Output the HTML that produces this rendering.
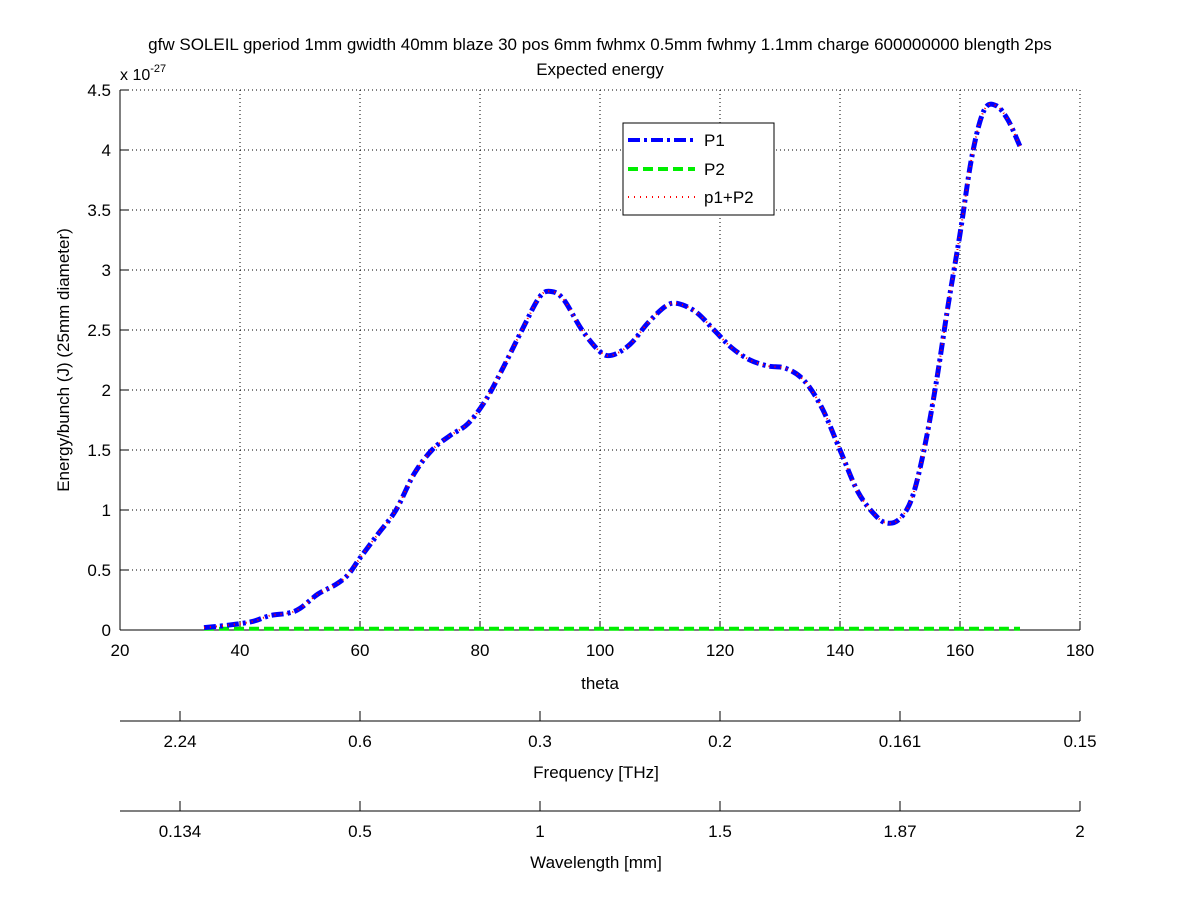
<!DOCTYPE html>
<html><head><meta charset="utf-8"><style>
body{margin:0;background:#fff;}
svg{display:block;font-family:"Liberation Sans",sans-serif;}
</style></head><body>
<svg id="chart" width="1200" height="901" viewBox="0 0 1200 901">
<rect width="1200" height="901" fill="#fff"/>
<text x="600" y="50" font-size="17" text-anchor="middle">gfw SOLEIL gperiod 1mm gwidth 40mm blaze 30 pos 6mm fwhmx 0.5mm fwhmy 1.1mm charge 600000000 blength 2ps</text>
<text x="600" y="75" font-size="17" text-anchor="middle">Expected energy</text>
<text x="120" y="80" font-size="16">x 10<tspan font-size="11" dy="-8">-27</tspan></text>
<g id="grid"></g>
<g id="axes"></g>
<g id="series"></g>
<text x="600" y="689" font-size="17" text-anchor="middle">theta</text>
<text transform="translate(69,360) rotate(-90)" font-size="17" text-anchor="middle">Energy/bunch (J)  (25mm diameter)</text>
<text x="596" y="778" font-size="17" text-anchor="middle">Frequency [THz]</text>
<text x="596" y="868" font-size="17" text-anchor="middle">Wavelength [mm]</text>
<g>
<rect x="623" y="123" width="151" height="92" fill="#fff" stroke="#000" stroke-width="1"/>
<line x1="628" y1="140" x2="695" y2="140" stroke="#0000ff" stroke-width="4" stroke-dasharray="12,4,3,4"/>
<text x="704" y="146" font-size="17">P1</text>
<line x1="628" y1="169" x2="695" y2="169" stroke="#00ee00" stroke-width="4" stroke-dasharray="10,5"/>
<text x="704" y="175" font-size="17">P2</text>
<line x1="628" y1="197" x2="695" y2="197" stroke="#ff0000" stroke-width="2" stroke-dasharray="1,5"/>
<text x="704" y="203" font-size="17">p1+P2</text>
</g>
</svg>
<script>
const thetas=[34,38,42,45,48,50,53,56,58,60,63,66,69,72,75,78,81,84,87,90,92,94,97,100,102,105,108,111,113,116,119,122,125,128,131,134,137,140,143,146,148,150,152,154,156,158,160,162,164,166,168,170];
const p1=[0.02,0.04,0.07,0.12,0.14,0.18,0.3,0.38,0.46,0.6,0.8,1.0,1.3,1.5,1.62,1.72,1.92,2.2,2.5,2.78,2.82,2.75,2.5,2.32,2.29,2.38,2.56,2.7,2.72,2.65,2.5,2.35,2.25,2.2,2.18,2.08,1.85,1.5,1.15,0.95,0.89,0.93,1.1,1.5,2.05,2.7,3.3,3.95,4.33,4.37,4.25,4.03];
const p2=thetas.map(()=>0.01);
const xTicks=[20,40,60,80,100,120,140,160,180];
const yTicks=[0,0.5,1,1.5,2,2.5,3,3.5,4,4.5];
const freqLabels=["2.24","0.6","0.3","0.2","0.161","0.15"];
const waveLabels=["0.134","0.5","1","1.5","1.87","2"];
const X=t=>120+(t-20)*6;
const Y=v=>630-v*120;
const NS="http://www.w3.org/2000/svg";
function mk(tag,attrs,parent,text){const e=document.createElementNS(NS,tag);for(const k in attrs)e.setAttribute(k,attrs[k]);if(text!==undefined)e.textContent=text;parent.appendChild(e);return e;}
const grid=document.getElementById('grid'),axes=document.getElementById('axes'),ser=document.getElementById('series');
xTicks.forEach(t=>{
 if(t>20){const g=mk('line',{x1:X(t),y1:90,x2:X(t),y2:630,stroke:'#000','stroke-width':1,'stroke-dasharray':'1,3'},grid);
 
 }
 mk('line',{x1:X(t),y1:630,x2:X(t),y2:621,stroke:'#000'},axes);
 const l=mk('text',{x:X(t),y:656,'font-size':17,'text-anchor':'middle'},axes,String(t));
 
 
});
yTicks.forEach(v=>{
 if(v>0){const g=mk('line',{x1:120,y1:Y(v),x2:1080,y2:Y(v),stroke:'#000','stroke-width':1,'stroke-dasharray':'1,3'},grid);
 
 }
 mk('line',{x1:120,y1:Y(v),x2:129,y2:Y(v),stroke:'#000'},axes);
 const l=mk('text',{x:111,y:Y(v)+6,'font-size':17,'text-anchor':'end'},axes,String(v));
 
 
});
mk('line',{x1:120,y1:90,x2:120,y2:630,stroke:'#000'},axes);
mk('line',{x1:120,y1:630,x2:1080,y2:630,stroke:'#000'},axes);
[[721,freqLabels],[811,waveLabels]].forEach(([yy,labs])=>{
 mk('line',{x1:120,y1:yy,x2:1080,y2:yy,stroke:'#000'},axes);
 labs.forEach((lab,i)=>{
  const px=180+i*180;
  mk('line',{x1:px,y1:yy,x2:px,y2:yy-10,stroke:'#000'},axes);
  const l=mk('text',{x:px,y:yy+26,'font-size':17,'text-anchor':'middle'},axes,lab);
  
  
 });
});
function path(vals){
 const pts=thetas.map((t,i)=>[X(t),Y(vals[i])]);
 let d='M'+pts[0][0]+','+pts[0][1];
 for(let i=0;i<pts.length-1;i++){
  const p0=pts[i-1]||pts[i],p1_=pts[i],p2_=pts[i+1],p3=pts[i+2]||p2_;
  const c1x=p1_[0]+(p2_[0]-p0[0])/6,c1y=p1_[1]+(p2_[1]-p0[1])/6;
  const c2x=p2_[0]-(p3[0]-p1_[0])/6,c2y=p2_[1]-(p3[1]-p1_[1])/6;
  d+=` C${c1x},${c1y} ${c2x},${c2y} ${p2_[0]},${p2_[1]}`;
 }
 return d;
}
const sumv=p1.map((v,i)=>v+p2[i]*0);
const a=mk('path',{d:path(p2),fill:'none',stroke:'#00ee00','stroke-width':4,'stroke-dasharray':'10,5'},ser);


const b=mk('path',{d:path(p1),fill:'none',stroke:'#0000ff','stroke-width':5,'stroke-dasharray':'12,4,3,4'},ser);


const c=mk('path',{d:path(sumv),fill:'none',stroke:'#ff0000','stroke-width':2,'stroke-dasharray':'1,5'},ser);


</script>
</body></html>
